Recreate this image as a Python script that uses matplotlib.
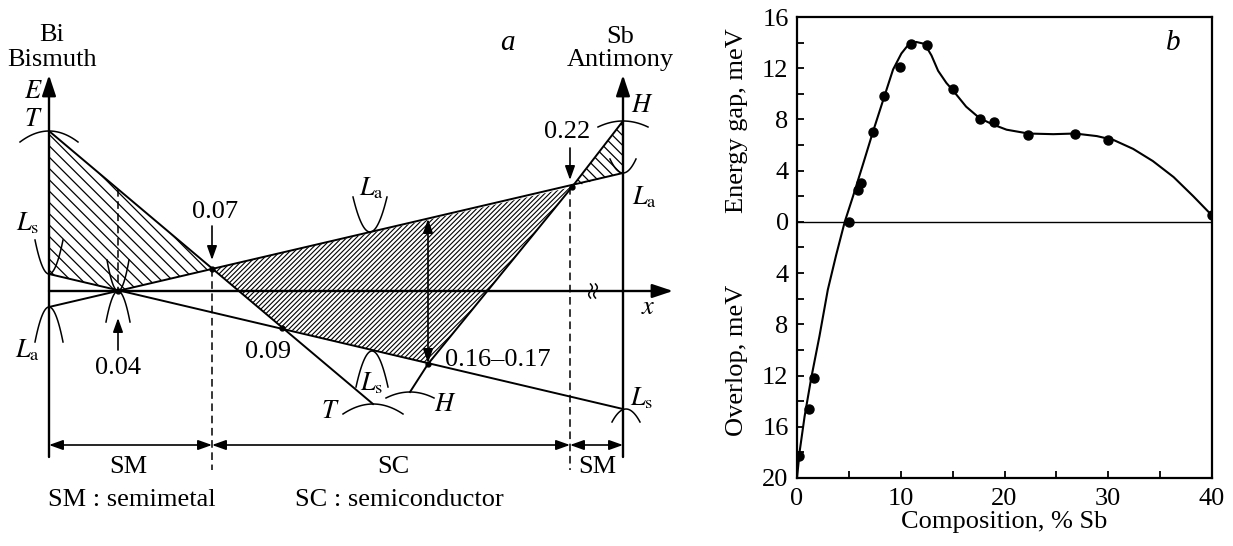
import matplotlib
matplotlib.use('Agg')
import matplotlib.pyplot as plt
from matplotlib.patches import Polygon
from matplotlib.collections import LineCollection
import numpy as np

plt.rcParams['font.family'] = ['Liberation Serif', 'DejaVu Serif']
plt.rcParams['mathtext.fontset'] = 'stix'

# ---------------- panel b : measured points and drawn curve ----------------
sb_pct = [0.2, 1.2, 1.6, 5.0, 5.9, 6.2, 7.3, 8.4, 9.9, 11.0, 12.5,
          15.0, 17.6, 19.0, 22.3, 26.8, 30.0, 40.0]
gap_mev = [-18.3, -14.6, -12.2, 0.0, 2.5, 3.0, 7.0, 9.8, 12.1, 13.9, 13.8,
           10.4, 8.0, 7.8, 6.8, 6.9, 6.4, 0.5]

curve_x = [0.0, 0.26, 0.73, 1.37, 2.17, 2.97, 3.77, 4.6, 5.4, 6.4, 7.33,
           8.3, 9.26, 10.06, 10.7, 11.5, 12.3, 12.96, 13.6, 14.4, 15.05,
           16.3, 17.6, 18.9, 20.2, 22.3, 24.7, 26.8, 28.9, 30.5, 32.4,
           34.3, 36.3, 38.2, 40.0]
curve_y = [-20.0, -17.9, -15.2, -12.2, -8.9, -5.3, -2.6, 0.0, 2.0, 4.6, 7.06,
           9.5, 11.9, 13.15, 13.8, 14.05, 13.9, 13.0, 11.8, 10.85, 10.25,
           9.0, 8.1, 7.6, 7.2, 6.9, 6.85, 6.9, 6.7, 6.4, 5.7,
           4.75, 3.5, 2.0, 0.5]

ytick_vals = [16, 12, 8, 4, 0, -4, -8, -12, -16, -20]
xtick_vals = [0, 10, 20, 30, 40]

# ---------------- panel a : schematic (reference pixel units, y down) ----------------
bi_x, sb_x = 49, 623
xaxis_y = 291
axis_top, axis_bot = 75, 457
xaxis_end = 673

line_T = [(49, 131), (373, 404)]
line_La = [(49, 307), (623, 173)]
line_Ls = [(49, 274), (623, 409)]
line_H = [(623, 121), (572, 187), (428, 364), (410, 392)]

trans_names = ['0.04', '0.07', '0.09', '0.16\u20130.17', '0.22']
trans_pts = [(118, 291), (212, 269), (282, 328), (428, 364), (572, 187)]

region1 = [(49, 131), (212, 269), (118, 291), (49, 274)]
region2 = [(212, 269), (572, 187), (428, 364), (282, 328)]
region3 = [(572, 187), (623, 121), (623, 173)]

# band extrema: centre x, centre y, half width, depth, +1 = maximum / -1 = minimum
extrema = [(49, 131, 29, 11, 1), (49, 274, 14, 34, -1), (49, 307, 14, 35, 1),
           (118, 291, 11, 31, -1), (118, 291, 12, 31, 1),
           (370, 232, 17, 35, -1), (372, 351, 16, 36, 1),
           (373, 404, 30, 10, 1), (410, 392, 24, 6, 1),
           (623, 121, 25, 6, 1), (623, 173, 13, 14, -1), (626, 409, 14, 13, 1)]

band_labels = [('$E$', 33, 92), ('$T$', 33, 120), (r'$L_{\rm s}$', 28, 223),
               (r'$L_{\rm a}$', 28, 350), (r'$L_{\rm a}$', 372, 188),
               (r'$L_{\rm s}$', 372, 383), ('$T$', 330, 412), ('$H$', 445, 405),
               ('$H$', 642, 106), (r'$L_{\rm a}$', 645, 197),
               (r'$L_{\rm s}$', 642, 398), ('$x$', 648, 308)]

regions_x = [49, 212, 570, 623]
region_names = ['SM', 'SC', 'SM']

fig = plt.figure(figsize=(12.33, 5.46), dpi=100)

# ---- panel a ----
ax = fig.add_axes([0, 0, 1, 1])
ax.set_xlim(0, 1233)
ax.set_ylim(546, 0)
ax.axis('off')


def hatch(poly, spacing, slope, lw):
    patch = Polygon(poly, closed=True, fill=False, lw=0)
    ax.add_patch(patch)
    xs = [p[0] for p in poly]
    cs = [p[1] - slope * p[0] for p in poly]
    step = spacing * np.sqrt(1 + slope ** 2)
    segs = [[(min(xs), slope * min(xs) + c), (max(xs), slope * max(xs) + c)]
            for c in np.arange(min(cs) + step / 2, max(cs), step)]
    lc = LineCollection(segs, colors='k', linewidths=lw)
    ax.add_collection(lc)
    lc.set_clip_path(patch)


hatch(region1, 8, 1, 0.9)
hatch(region2, 3.4, -1, 0.8)
hatch(region3, 7, 1, 0.9)

for ln in [line_T, line_La, line_Ls, line_H]:
    ax.plot([p[0] for p in ln], [p[1] for p in ln], color='k', lw=1.4)

for cx, cy, hw, d, s in extrema:
    xs = np.linspace(cx - hw, cx + hw, 40)
    ax.plot(xs, cy + s * d * ((xs - cx) / hw) ** 2, color='k', lw=1.1)

ax.plot([p[0] for p in trans_pts], [p[1] for p in trans_pts], 'o', color='k', ms=3.5)

arr = dict(arrowstyle='-|>,head_length=0.9,head_width=0.3', color='k', lw=1.7,
           shrinkA=0, shrinkB=0, mutation_scale=14)
ax.annotate('', xy=(bi_x, axis_top), xytext=(bi_x, axis_bot), arrowprops=arr)
ax.annotate('', xy=(sb_x, axis_top), xytext=(sb_x, axis_bot), arrowprops=arr)
ax.annotate('', xy=(xaxis_end, xaxis_y), xytext=(bi_x, xaxis_y), arrowprops=arr)

# axis break
for off in (-2.5, 2.5):
    ys = np.linspace(284, 298, 30)
    ax.plot(593 + off + 1.8 * np.sin((ys - 284) / 14 * 2 * np.pi), ys, color='k', lw=1.1)

# dashed lines
dash = dict(color='k', lw=1.1, ls=(0, (5, 3)))
ax.plot([118, 118], [189, 291], **dash)
ax.plot([212, 212], [269, 470], **dash)
ax.plot([570, 570], [187, 470], **dash)

# small arrows to the transition points
sarr = dict(arrowstyle='-|>,head_length=0.7,head_width=0.25', color='k', lw=1.2,
            shrinkA=0, shrinkB=0, mutation_scale=12)
ax.annotate('', xy=(118, 318), xytext=(118, 350), arrowprops=sarr)
ax.annotate('', xy=(212, 260), xytext=(212, 226), arrowprops=sarr)
ax.annotate('', xy=(570, 180), xytext=(570, 148), arrowprops=sarr)
darr = dict(arrowstyle='<|-|>,head_length=0.7,head_width=0.25', color='k', lw=1.2,
            shrinkA=0, shrinkB=0, mutation_scale=12)
ax.annotate('', xy=(428, 219), xytext=(428, 363), arrowprops=darr)

# SM / SC ranges
for i in range(3):
    ax.annotate('', xy=(regions_x[i], 445), xytext=(regions_x[i + 1], 445), arrowprops=darr)
ax.text(128, 467, region_names[0], ha='center', va='center', fontsize=19)
ax.text(393, 467, region_names[1], ha='center', va='center', fontsize=19)
ax.text(597, 467, region_names[2], ha='center', va='center', fontsize=19)
ax.text(132, 500, 'SM : semimetal', ha='center', va='center', fontsize=19)
ax.text(399, 500, 'SC : semiconductor', ha='center', va='center', fontsize=19)

# transition labels
ax.text(118, 368, trans_names[0], ha='center', va='center', fontsize=19)
ax.text(215, 212, trans_names[1], ha='center', va='center', fontsize=19)
ax.text(268, 352, trans_names[2], ha='center', va='center', fontsize=19)
ax.text(445, 360, trans_names[3], ha='left', va='center', fontsize=19)
ax.text(567, 132, trans_names[4], ha='center', va='center', fontsize=19)

for s, x, y in band_labels:
    ax.text(x, y, s, ha='center', va='center', fontsize=19)

ax.text(52, 35, 'Bi', ha='center', va='center', fontsize=19)
ax.text(52, 60, 'Bismuth', ha='center', va='center', fontsize=19)
ax.text(620, 37, 'Sb', ha='center', va='center', fontsize=19)
ax.text(620, 60, 'Antimony', ha='center', va='center', fontsize=19)
ax.text(507, 43, 'a', ha='center', va='center', fontsize=21, style='italic')

# ---- panel b ----
bx = fig.add_axes([797 / 1233, (546 - 478) / 546, 415 / 1233, 461 / 546])
bx.plot(curve_x, curve_y, color='k', lw=1.5)
bx.plot(sb_pct, gap_mev, 'o', color='k', ms=6.5)
bx.axhline(0, color='k', lw=1.0)
bx.set_xlim(0, 40)
bx.set_ylim(-20, 16)
bx.set_xticks(xtick_vals)
bx.set_xticks(range(0, 41, 5), minor=True)
bx.set_yticks(ytick_vals)
bx.set_yticklabels([str(abs(v)) for v in ytick_vals])
bx.set_yticks(range(-20, 17, 2), minor=True)
bx.tick_params(which='both', direction='in', width=1.3, length=5, labelsize=19)
bx.tick_params(axis='x', pad=7)
bx.tick_params(axis='y', pad=6)
for sp in bx.spines.values():
    sp.set_linewidth(1.6)
bx.set_xlabel('Composition, % Sb', fontsize=19, labelpad=1)
bx.text(-0.145, 7.9, 'Energy gap, meV', transform=bx.get_yaxis_transform(),
        rotation=90, ha='center', va='center', fontsize=19)
bx.text(-0.145, -10.8, 'Overlop, meV', transform=bx.get_yaxis_transform(),
        rotation=90, ha='center', va='center', fontsize=19)
bx.text(36.3, 14.0, 'b', ha='center', va='center', fontsize=21, style='italic')

fig.savefig('out.png', dpi=100)
